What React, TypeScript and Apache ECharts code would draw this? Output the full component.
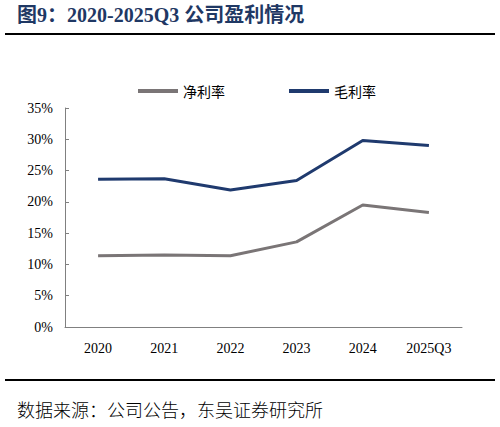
import { useEffect, useRef } from "react";
import * as echarts from "echarts";

const years = ["2020", "2021", "2022", "2023", "2024", "2025Q3"];
const netMargin = [11.4, 11.5, 11.4, 13.6, 19.5, 18.3];
const grossMargin = [23.6, 23.7, 21.9, 23.4, 29.8, 29.0];

const serif = "'Liberation Serif', 'Times New Roman', 'Noto Sans CJK SC', serif";

export default function App() {
  const chartRef = useRef<HTMLDivElement>(null);

  useEffect(() => {
    document.body.style.margin = "0";
    if (!chartRef.current) return;
    const chart = echarts.init(chartRef.current, null, { renderer: "svg" });

    const option = {
      animation: false,
      backgroundColor: "#ffffff",
      graphic: [
        {
          type: "text",
          left: 17,
          top: 5,
          style: {
            text: "图9：2020-2025Q3 公司盈利情况",
            fontFamily: serif,
            fontWeight: "bold",
            fontSize: 20,
            fill: "#1f3864",
          },
        },
        {
          type: "line",
          shape: { x1: 5, y1: 34, x2: 495, y2: 34 },
          style: { stroke: "#000", lineWidth: 2 },
        },
        {
          type: "line",
          shape: { x1: 5, y1: 380, x2: 495, y2: 380 },
          style: { stroke: "#000", lineWidth: 2 },
        },
        {
          type: "text",
          left: 17,
          top: 400,
          style: {
            text: "数据来源：公司公告，东吴证券研究所",
            fontFamily: "'Noto Sans CJK SC', sans-serif",
            fontWeight: 300,
            fontSize: 18,
            fill: "#000",
          },
        },
      ],
      legend: {
        top: 79,
        left: 133,
        itemWidth: 40,
        itemHeight: 4,
        itemGap: 64,
        icon: "rect",
        textStyle: { fontSize: 14, color: "#000", fontFamily: "'Noto Sans CJK SC', sans-serif" },
        data: ["净利率", "毛利率"],
      },
      grid: { left: 65, right: 38, top: 108, bottom: 100 },
      xAxis: {
        type: "category",
        data: years,
        boundaryGap: true,
        axisLine: { lineStyle: { color: "#808080" } },
        axisTick: { inside: true, length: 4, lineStyle: { color: "#808080" } },
        axisLabel: { color: "#000", fontSize: 14, fontFamily: serif, margin: 14 },
      },
      yAxis: {
        type: "value",
        min: 0,
        max: 35,
        interval: 5,
        splitLine: { show: false },
        axisLine: { show: true, lineStyle: { color: "#808080" } },
        axisTick: { show: true, inside: true, length: 4, lineStyle: { color: "#808080" } },
        axisLabel: { color: "#000", fontSize: 14, fontFamily: serif, formatter: "{value}%", margin: 12 },
      },
      series: [
        {
          name: "净利率",
          type: "line",
          data: netMargin,
          symbol: "none",
          itemStyle: { color: "#7a7576" },
          lineStyle: { color: "#7a7576", width: 3 },
        },
        {
          name: "毛利率",
          type: "line",
          data: grossMargin,
          symbol: "none",
          itemStyle: { color: "#1f3a6e" },
          lineStyle: { color: "#1f3a6e", width: 3 },
        },
      ],
    };

    chart.setOption(option);
    return () => {
      chart.dispose();
    };
  }, []);

  return <div ref={chartRef} style={{ width: 500, height: 427 }} />;
}
